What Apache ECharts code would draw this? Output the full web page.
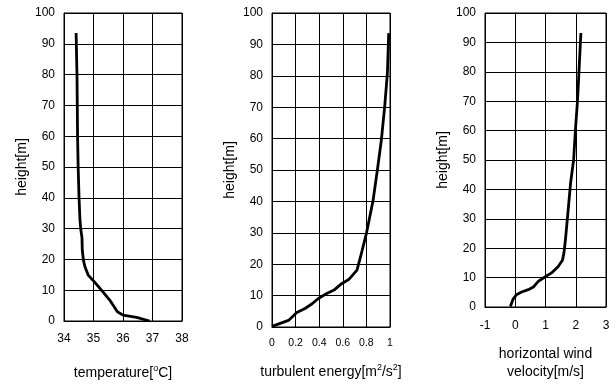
<!DOCTYPE html>
<html><head><meta charset="utf-8">
<script src="https://cdn.jsdelivr.net/npm/echarts@6/dist/echarts.min.js"></script>
<style>html,body{margin:0;padding:0;background:#fff}#c{width:615px;height:387px}</style>
</head><body><div id="c"></div>
<script>
// Temperature profile [°C, m]
const tempX = [36.9, 36.46, 36.0, 35.81, 35.55, 35.27, 35.03, 34.82, 34.71, 34.66, 34.62, 34.61, 34.57, 34.54, 34.51, 34.48, 34.46, 34.45, 34.44, 34.41];
const tempY = [0, 1.2, 1.9, 3, 6.8, 10, 12.7, 14.9, 17.6, 19.7, 23, 27, 29.7, 33, 40, 50, 60, 70, 80, 93.5];
// Turbulent energy [m2/s2, m]
const tkeX = [0, 0.14, 0.21, 0.28, 0.34, 0.39, 0.46, 0.53, 0.59, 0.65, 0.72, 0.75, 0.80, 0.857, 0.893, 0.927, 0.955, 0.978, 0.989];
const tkeY = [0.2, 2.1, 4.6, 5.9, 7.4, 9, 10.6, 11.9, 13.8, 15.1, 18.1, 22.3, 29.8, 40.4, 50, 59.6, 70.2, 80.9, 93.6];
// Horizontal wind velocity [m/s, m]
const windX = [-0.16, -0.07, 0.04, 0.21, 0.43, 0.6, 0.76, 0.98, 1.2, 1.42, 1.56, 1.61, 1.66, 1.70, 1.76, 1.83, 1.93, 1.99, 2.06, 2.11, 2.17];
const windY = [0.2, 2.7, 4.2, 5.1, 5.9, 6.8, 8.7, 10.2, 11.6, 13.8, 15.9, 18.4, 22.9, 27.4, 34.2, 42.2, 50.1, 60.3, 70.5, 80.7, 93.2];
// Axis ranges / tick labels
const tempTicks = [34, 35, 36, 37, 38];
const tkeTicks = [0, 0.2, 0.4, 0.6, 0.8, 1];
const windTicks = [-1, 0, 1, 2, 3];
const heightTicks = [0, 10, 20, 30, 40, 50, 60, 70, 80, 90, 100];

const FONT = 'Liberation Sans';
const zip = (a, b) => a.map((v, i) => [v, b[i]]);
const supStyle = { sup: { fontSize: 9, lineHeight: 10, verticalAlign: 'top', color: '#000', fontFamily: FONT } };

function xAxis(idx, ticks, name, gap, fs, margin) {
  return {
    type: 'value', gridIndex: idx,
    min: ticks[0], max: ticks[ticks.length - 1],
    interval: ticks[1] - ticks[0],
    axisLine: { show: true, onZero: false, lineStyle: { color: '#000', width: 1 } },
    axisTick: { show: false },
    splitLine: { show: true, lineStyle: { color: '#000', width: 1 } },
    axisLabel: { color: '#000', fontFamily: FONT, fontSize: fs, margin: margin,
      formatter: v => String(Math.round(v * 10) / 10) },
    name: name, nameLocation: 'middle', nameGap: gap,
    nameTextStyle: { color: '#000', fontFamily: FONT, fontSize: 14, lineHeight: 18, rich: supStyle }
  };
}
function yAxis(idx) {
  return {
    type: 'value', gridIndex: idx,
    min: heightTicks[0], max: heightTicks[heightTicks.length - 1],
    interval: heightTicks[1] - heightTicks[0],
    axisLine: { show: true, lineStyle: { color: '#000', width: 1 } },
    axisTick: { show: false },
    splitLine: { show: true, lineStyle: { color: '#000', width: 1 } },
    axisLabel: { color: '#000', fontFamily: FONT, fontSize: 12, margin: 9 },
    name: 'height[m]', nameLocation: 'middle', nameGap: 34,
    nameTextStyle: { color: '#000', fontFamily: FONT, fontSize: 14, lineHeight: 16 }
  };
}
const grid = (l, t, w, h) => ({ left: l, top: t, width: w, height: h, show: true, borderColor: '#000', borderWidth: 1, containLabel: false });
const line = (i, data) => ({ type: 'line', xAxisIndex: i, yAxisIndex: i, data: data, showSymbol: false, smooth: false,
  lineStyle: { color: '#000', width: 2.8 }, animation: false });

const chart = echarts.init(document.getElementById('c'), null, { renderer: 'canvas' });
chart.setOption({
  animation: false,
  grid: [grid(64, 13, 118, 310), grid(272, 13, 118, 314), grid(485, 13, 121, 294)],
  xAxis: [
    xAxis(0, tempTicks, 'temperature[{sup|o}C]', 43, 12, 12),
    xAxis(1, tkeTicks, 'turbulent energy[m{sup|2}/s{sup|2}]', 36, 10.5, 11),
    xAxis(2, windTicks, 'horizontal wind\nvelocity[m/s]', 38, 12, 13)
  ],
  yAxis: [yAxis(0), yAxis(1), yAxis(2)],
  series: [line(0, zip(tempX, tempY)), line(1, zip(tkeX, tkeY)), line(2, zip(windX, windY))]
});
</script></body></html>
